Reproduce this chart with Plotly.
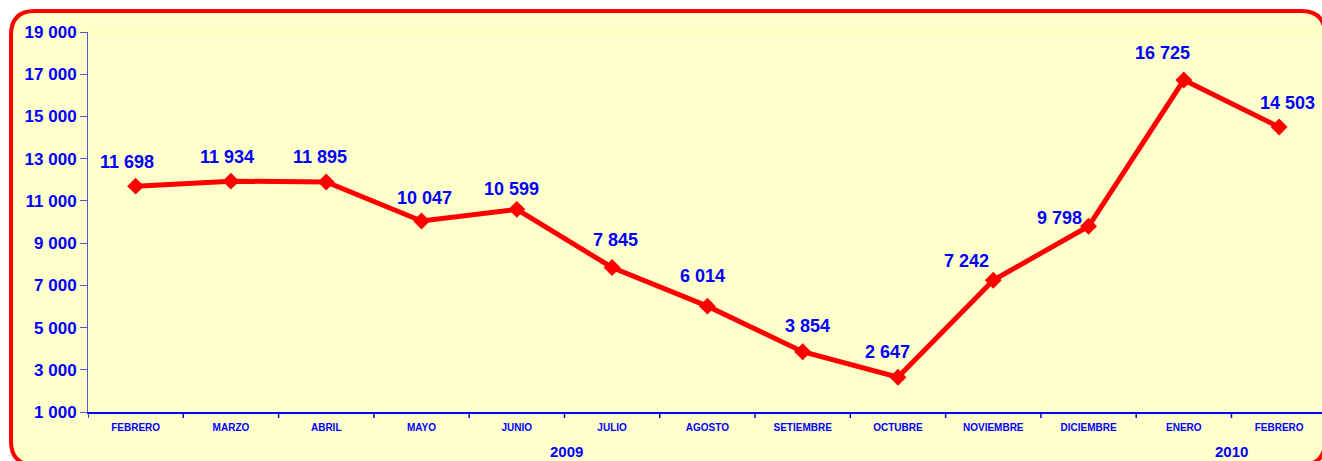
import plotly.graph_objects as go

months = ["FEBRERO", "MARZO", "ABRIL", "MAYO", "JUNIO", "JULIO", "AGOSTO",
          "SETIEMBRE", "OCTUBRE", "NOVIEMBRE", "DICIEMBRE", "ENERO", "FEBRERO"]
values = [11698, 11934, 11895, 10047, 10599, 7845, 6014, 3854, 2647, 7242, 9798, 16725, 14503]
years = ["2009", "2010"]
year_pos = [4.52, 11.5]
y_ticks = [1000, 3000, 5000, 7000, 9000, 11000, 13000, 15000, 17000, 19000]

# label offsets in pixels (style)
label_dx = [-9, -4, -6, 3, -5, 3, -5, 5, -10, -27, -29, -21, 8]
label_dy = [24, 24, 25, 23, 20, 27, 30, 26, 25, 19, 8, 27, 24]

def fmt(v):
    return f"{v:,}".replace(",", " ")

x_idx = list(range(len(months)))
FONT = "Arial, Liberation Sans, sans-serif"

fig = go.Figure()
fig.add_trace(go.Scatter(
    x=x_idx, y=values, mode="lines+markers",
    line=dict(color="#FF0000", width=5),
    marker=dict(symbol="diamond", size=13, color="#FF0000"),
    hoverinfo="skip", showlegend=False, cliponaxis=False,
))

annotations = []
for i, v in enumerate(values):
    annotations.append(dict(
        x=i, y=v, xref="x", yref="y", text=fmt(v), showarrow=False,
        xshift=label_dx[i], yshift=label_dy[i],
        font=dict(family=FONT, size=18, color="#0000FF", weight="bold"),
    ))
for yr, p in zip(years, year_pos):
    annotations.append(dict(
        x=p, y=0, xref="x", yref="paper", yshift=-40, text=yr, showarrow=False,
        font=dict(family=FONT, size=15, color="#0000FF", weight="bold"),
    ))

W, H = 1322, 461
L, R, T, B = 88, 0, 32, 49
pw, ph = W - L - R, H - T - B

def px_to_paper_x(px):
    return (px - L) / pw

def px_to_paper_y(py):
    return (H - B - py) / ph

# rounded border
x0, x1, y0, y1, r = 11, 1325, 11, 465, 24
def P(px, py):
    return f"{px_to_paper_x(px):.5f},{px_to_paper_y(py):.5f}"
path = (f"M {P(x0 + r, y0)} L {P(x1 - r, y0)} Q {P(x1, y0)} {P(x1, y0 + r)} "
        f"L {P(x1, y1 - r)} Q {P(x1, y1)} {P(x1 - r, y1)} "
        f"L {P(x0 + r, y1)} Q {P(x0, y1)} {P(x0, y1 - r)} "
        f"L {P(x0, y0 + r)} Q {P(x0, y0)} {P(x0 + r, y0)} Z")

shapes = [
    dict(type="path", path=path, xref="paper", yref="paper",
         fillcolor="#FFFFCC", line=dict(color="#FF0000", width=4), layer="below"),
    dict(type="line", xref="paper", yref="paper", x0=0, x1=1, y0=1, y1=1,
         line=dict(color="#FFFF99", width=1), layer="below"),
]

fig.update_layout(
    width=W, height=H,
    margin=dict(l=L, r=R, t=T, b=B, pad=0),
    paper_bgcolor="#FFFFFF", plot_bgcolor="rgba(0,0,0,0)",
    shapes=shapes, annotations=annotations,
    xaxis=dict(
        tickmode="array", tickvals=x_idx, ticktext=months,
        range=[-0.5, 12.45], showgrid=False, zeroline=False,
        showline=True, linecolor="#0000FF", linewidth=1.5,
        ticks="", fixedrange=True, ticklabelstandoff=5,
        tickfont=dict(family=FONT, size=10, color="#0000FF", weight="bold"),
    ),
    yaxis=dict(
        range=[1000, 19000], tickmode="array", tickvals=y_ticks,
        ticktext=[fmt(t) for t in y_ticks], fixedrange=True,
        showgrid=False, zeroline=False, showline=True, linecolor="#5555CC", linewidth=1,
        ticks="outside", ticklen=7, tickcolor="#5555CC",
        tickfont=dict(family=FONT, size=17, color="#0000FF", weight="bold"),
    ),
)
for a in fig.layout.annotations[len(values):]:
    a.yshift = -50

# category boundary ticks on x axis
for k in range(len(months) + 1):
    fig.add_shape(type="line", xref="x", yref="paper", x0=k - 0.5, x1=k - 0.5,
                  y0=0, y1=-6 / ph, line=dict(color="#0000FF", width=1.5))

fig.write_html("out.html", config={"displayModeBar": False},
               post_script="document.body.style.margin='0px';")
